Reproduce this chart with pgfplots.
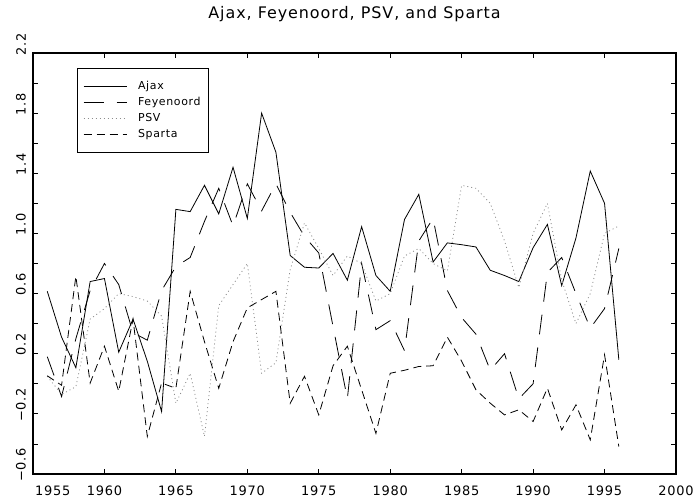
\documentclass[border=0pt]{standalone}
\usepackage{fontspec}
\setmainfont{DejaVu Sans}[LetterSpace=6]
\usepackage{pgfplots}
\usepackage{pgfplotstable}
\pgfplotsset{compat=1.18}

\pgfplotstableread{
year ajax feye psv sparta
1956 0.615 0.18 0.05 0.053
1957 0.31 -0.085 -0.07 -0.01
1958 0.107 0.30 -0.02 0.715
1959 0.68 0.62 0.43 0.005
1960 0.70 0.80 0.50 0.25
1961 0.21 0.66 0.60 -0.05
1962 0.43 0.34 0.58 0.43
1963 0.15 0.29 0.55 -0.35
1964 -0.185 0.62 0.45 0.005
1965 1.16 0.78 -0.13 -0.03
1966 1.145 0.84 0.07 0.615
1967 1.32 1.08 -0.35 0.28
1968 1.13 1.30 0.52 -0.03
1969 1.44 1.05 0.66 0.28
1970 1.10 1.33 0.80 0.505
1971 1.80 1.15 0.07 0.56
1972 1.54 1.33 0.14 0.615
1973 0.853 1.14 0.76 -0.13
1974 0.775 0.98 1.07 0.05
1975 0.77 0.87 0.90 -0.207
1976 0.867 0.38 0.72 0.12
1977 0.689 -0.10 0.85 0.25
1978 1.045 0.80 0.80 -0.04
1979 0.72 0.36 0.55 -0.33
1980 0.615 0.42 0.60 0.07
1981 1.093 0.22 0.85 0.09
1982 1.26 0.95 0.90 0.115
1983 0.81 1.10 0.80 0.12
1984 0.937 0.62 0.75 0.31
1985 0.925 0.44 1.32 0.15
1986 0.91 0.33 1.30 -0.04
1987 0.755 0.09 1.20 -0.129
1988 0.72 0.20 0.95 -0.207
1989 0.68 -0.10 0.64 -0.173
1990 0.905 0.00 1.00 -0.251
1991 1.06 0.74 1.20 -0.029
1992 0.653 0.84 0.69 -0.307
1993 0.97 0.60 0.40 -0.14
1994 1.415 0.37 0.60 -0.373
1995 1.20 0.50 1.00 0.193
1996 0.16 0.90 1.05 -0.418
}\clubs

\begin{document}
\begin{tikzpicture}
\begin{axis}[
  name=ax,
  scale only axis, width=643bp, height=421bp,
  xmin=1955, xmax=2000, ymin=-0.6, ymax=2.2,
  axis line style={line width=1.8bp},
  tick align=inside,
  xtick pos=both, ytick pos=both,
  xticklabel pos=lower, yticklabel pos=left,
  major tick length=5bp,
  tick style={black, line width=0.8bp},
  xtick={1955,1960,1965,1970,1975,1980,1985,1990,1995,2000},
  xticklabels={\makebox[0pt][l]{\hspace{2bp}1955},1960,1965,1970,1975,1980,1985,1990,1995,2000},
  ytick={-0.6,-0.4,-0.2,0,0.2,0.4,0.6,0.8,1.0,1.2,1.4,1.6,1.8,2.0,2.2},
  yticklabels={−0.6,,−0.2,,0.2,,0.6,,1.0,,1.4,,1.8,,2.2},
  ticklabel style={font=\fontsize{13}{15}\selectfont},
  xticklabel style={anchor=north, inner sep=0bp, yshift=-12bp},
  yticklabel style={rotate=90, anchor=south, inner sep=0bp, xshift=9bp, yshift=7bp},
  title={Ajax, Feyenoord, PSV, and Sparta},
  title style={font=\fontsize{16}{19}\selectfont, at={(0.5,1)}, anchor=base, yshift=29bp},
  legend style={at={(0.0684,0.964)}, anchor=north west, draw=black, line width=0.6bp,
    font=\fontsize{11}{13}\selectfont, inner xsep=6bp, inner ysep=10bp, row sep=0pt,
    nodes={inner sep=2bp, text height=9bp, text depth=3bp}},
  legend cell align=left,
  legend image code/.code={\draw[#1] (0bp,0bp) -- (43bp,0bp); \path (52bp,0bp);},
]
\addplot[black, line width=0.8bp] table[x=year, y=ajax] {\clubs};
\addlegendentry{Ajax}
\addplot[black, line width=0.8bp, dash pattern=on 20bp off 13bp] table[x=year, y=feye] {\clubs};
\addlegendentry{Feyenoord}
\addplot[black!45, line width=0.8bp, dash pattern=on 1bp off 3bp] table[x=year, y=psv] {\clubs};
\addlegendentry{PSV}
\addplot[black, line width=0.8bp, dash pattern=on 8bp off 5bp] table[x=year, y=sparta] {\clubs};
\addlegendentry{Sparta}
\end{axis}
\path (ax.south west) ++(-33bp,-27bp) rectangle ++(696bp,501bp);
\end{tikzpicture}
\end{document}
